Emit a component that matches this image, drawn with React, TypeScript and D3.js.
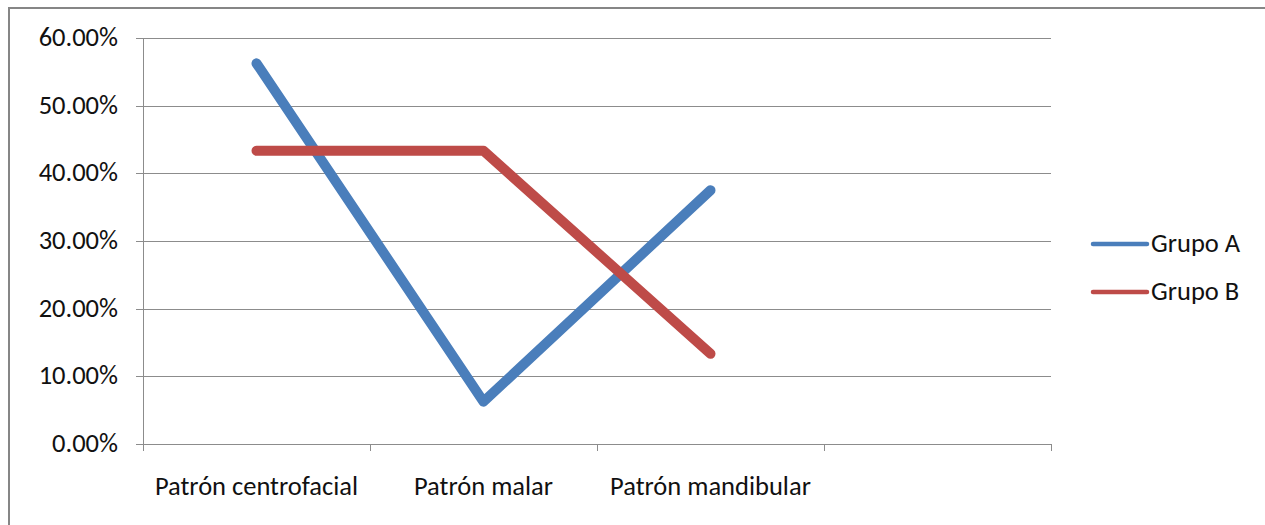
import { useEffect, useRef } from 'react'
import * as d3 from 'd3'

const WIDTH = 1265
const HEIGHT = 525
const MARGIN = { left: 143, top: 38, right: 1051, bottom: 444 }
const FONT = 'Carlito, Calibri, "Open Sans", sans-serif'
const FONT_SIZE = 26.5

const categories = ['Patrón centrofacial', 'Patrón malar', 'Patrón mandibular', '']
const grupoA = [0.5625, 0.0625, 0.375]
const grupoB = [0.4333, 0.4333, 0.1333]
const yTicks = [0, 0.1, 0.2, 0.3, 0.4, 0.5, 0.6]

const series = [
  { name: 'Grupo A', values: grupoA, color: '#4A7EBB' },
  { name: 'Grupo B', values: grupoB, color: '#BE4B48' },
]

export default function App() {
  const svgRef = useRef<SVGSVGElement>(null)

  useEffect(() => {
    if (!svgRef.current) return
    const svg = d3.select(svgRef.current)
    svg.selectAll('*').remove()

    svg.append('rect').attr('width', WIDTH).attr('height', HEIGHT).attr('fill', '#fff')

    // chart area border (top + left visible)
    svg.append('path')
      .attr('d', `M9,${HEIGHT + 5} L9,8 L${WIDTH + 5},8`)
      .attr('fill', 'none')
      .attr('stroke', '#868686')
      .attr('stroke-width', 2)

    const x = d3.scaleBand().domain(categories.map((c, i) => String(i)))
      .range([MARGIN.left, MARGIN.right])
    const y = d3.scaleLinear().domain([0, 0.6]).range([MARGIN.bottom, MARGIN.top])

    // gridlines
    svg.append('g').selectAll('line').data(yTicks).enter().append('line')
      .attr('x1', MARGIN.left - 7).attr('x2', MARGIN.right)
      .attr('y1', d => Math.round(y(d)) + 0.5).attr('y2', d => Math.round(y(d)) + 0.5)
      .attr('stroke', '#8c8c8c').attr('stroke-width', 1)

    // y axis line
    svg.append('line')
      .attr('x1', MARGIN.left + 0.5).attr('x2', MARGIN.left + 0.5)
      .attr('y1', MARGIN.top).attr('y2', MARGIN.bottom + 7)
      .attr('stroke', '#8c8c8c')

    // x ticks
    const bounds = categories.map((_, i) => x(String(i)) as number).concat([MARGIN.right])
    svg.append('g').selectAll('line').data(bounds).enter().append('line')
      .attr('x1', d => Math.round(d) + 0.5).attr('x2', d => Math.round(d) + 0.5)
      .attr('y1', MARGIN.bottom).attr('y2', MARGIN.bottom + 7)
      .attr('stroke', '#8c8c8c')

    // y labels
    svg.append('g').selectAll('text').data(yTicks).enter().append('text')
      .attr('x', 118).attr('y', d => y(d) + 8)
      .attr('text-anchor', 'end')
      .attr('font-family', FONT).attr('font-size', FONT_SIZE).attr('fill', '#111')
      .text(d => (d * 100).toFixed(2) + '%')

    // x labels
    svg.append('g').selectAll('text').data(categories).enter().append('text')
      .attr('x', (_, i) => (x(String(i)) as number) + x.bandwidth() / 2)
      .attr('y', 495)
      .attr('text-anchor', 'middle')
      .attr('font-family', FONT).attr('font-size', FONT_SIZE).attr('fill', '#111')
      .text(d => d)

    const line = d3.line<number>()
      .x((_, i) => (x(String(i)) as number) + x.bandwidth() / 2)
      .y(d => y(d))

    series.forEach(s => {
      svg.append('path')
        .attr('d', line(s.values))
        .attr('fill', 'none')
        .attr('stroke', s.color)
        .attr('stroke-width', 10)
        .attr('stroke-linecap', 'round')
        .attr('stroke-linejoin', 'round')
    })

    // legend
    const legend = svg.append('g').selectAll('g').data(series).enter().append('g')
      .attr('transform', (_, i) => `translate(0, ${244 + i * 48})`)
    legend.append('line')
      .attr('x1', 1093).attr('x2', 1147).attr('y1', 0).attr('y2', 0)
      .attr('stroke', d => d.color).attr('stroke-width', 4.5).attr('stroke-linecap', 'round')
    legend.append('text')
      .attr('x', 1151).attr('y', 8)
      .attr('font-family', FONT).attr('font-size', FONT_SIZE).attr('fill', '#111')
      .text(d => d.name)
  }, [])

  return (
    <svg ref={svgRef} width={WIDTH} height={HEIGHT}
      style={{ position: 'absolute', left: 0, top: 0, display: 'block' }} />
  )
}
